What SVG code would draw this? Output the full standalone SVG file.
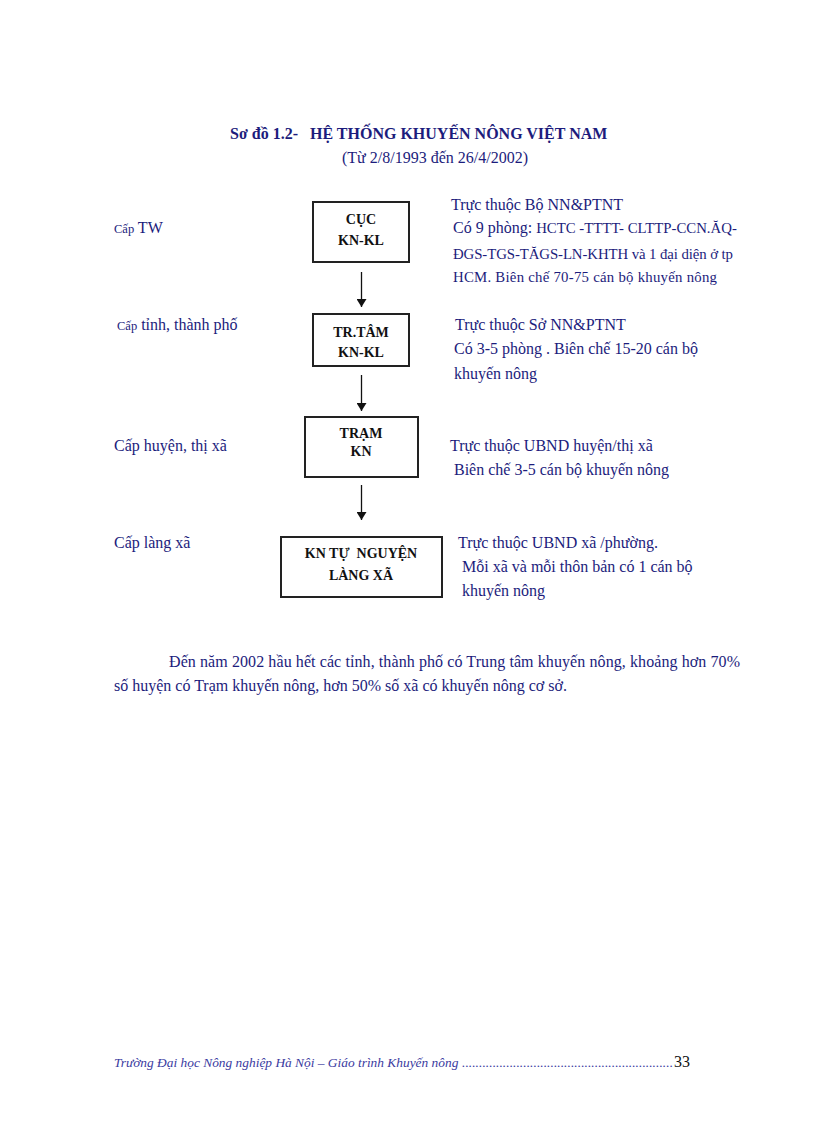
<svg xmlns="http://www.w3.org/2000/svg" width="816" height="1123" viewBox="0 0 816 1123">
<defs>
<style>
.t{font-family:"Liberation Serif","Times New Roman",serif;fill:#1c1c7c;font-size:16px}
.s{font-size:14.8px}
.b{font-family:"Liberation Serif","Times New Roman",serif;font-weight:bold;fill:#111;font-size:14px;text-anchor:middle;white-space:pre}
.h{font-family:"Liberation Serif","Times New Roman",serif;font-weight:bold;fill:#1c1c7c;font-size:16px;white-space:pre}
.box{fill:#fff;stroke:#222;stroke-width:2}
.c{stroke:#111;stroke-width:1.3;fill:none}
.f{font-family:"Liberation Serif","Times New Roman",serif;font-style:italic;fill:#3a3aa0;font-size:13.4px}
</style>
<marker id="ah" viewBox="0 0 8 10" refX="8" refY="5" markerWidth="8" markerHeight="10" markerUnits="userSpaceOnUse" orient="auto">
<path d="M0,0 L8,5 L0,10 z" fill="#111"/>
</marker>
</defs>
<rect width="816" height="1123" fill="#fff"/>

<text class="h" x="230" y="139" xml:space="preserve">Sơ đồ 1.2-   HỆ THỐNG KHUYẾN NÔNG VIỆT NAM</text>
<text class="t" x="342" y="163">(Từ 2/8/1993 đến 26/4/2002)</text>

<g id="labels">
<text class="t" x="114" y="233"><tspan font-size="12.5">Cấp</tspan> TW</text>
<text class="t" x="117" y="330"><tspan font-size="12.5">Cấp</tspan> tỉnh, thành phố</text>
<text class="t" x="114" y="451">Cấp huyện, thị xã</text>
<text class="t" x="114" y="548">Cấp làng xã</text>
</g>

<g id="connectors">
<line class="c" x1="361.5" y1="272" x2="361.5" y2="307" marker-end="url(#ah)"/>
<line class="c" x1="361.5" y1="375" x2="361.5" y2="411" marker-end="url(#ah)"/>
<line class="c" x1="361.5" y1="485" x2="361.5" y2="520" marker-end="url(#ah)"/>
</g>

<g id="cuc">
<rect class="box" x="313" y="202" width="96" height="60"/>
<text class="b" x="361" y="224">CỤC</text>
<text class="b" x="361" y="245">KN-KL</text>
</g>
<g id="trtam">
<rect class="box" x="313" y="314" width="96" height="52"/>
<text class="b" x="361" y="337">TR.TÂM</text>
<text class="b" x="361" y="357">KN-KL</text>
</g>
<g id="tram">
<rect class="box" x="305" y="417" width="113" height="60"/>
<text class="b" x="361" y="438">TRẠM</text>
<text class="b" x="361" y="456">KN</text>
</g>
<g id="kntn">
<rect class="box" x="281" y="537" width="161" height="60"/>
<text class="b" x="361" y="558" xml:space="preserve">KN TỰ  NGUYỆN</text>
<text class="b" x="361" y="580">LÀNG XÃ</text>
</g>

<g id="desc">
<text class="t" x="451" y="210">Trực thuộc Bộ NN&amp;PTNT</text>
<text class="t" x="453" y="233">Có 9 phòng: <tspan class="s">HCTC -TTTT- CLTTP-CCN.ĂQ-</tspan></text>
<text class="t s" x="453" y="259" textLength="280" lengthAdjust="spacing">ĐGS-TGS-TĂGS-LN-KHTH và 1 đại diện ở tp</text>
<text class="t s" x="453" y="282" textLength="264" lengthAdjust="spacing">HCM. Biên chế 70-75 cán bộ khuyến nông</text>

<text class="t" x="455" y="330">Trực thuộc Sở NN&amp;PTNT</text>
<text class="t" x="454" y="354">Có 3-5 phòng . Biên chế 15-20 cán bộ</text>
<text class="t" x="454" y="379">khuyến nông</text>

<text class="t" x="450" y="451">Trực thuộc UBND huyện/thị xã</text>
<text class="t" x="454" y="475">Biên chế 3-5 cán bộ khuyến nông</text>

<text class="t" x="458" y="548">Trực thuộc UBND xã /phường.</text>
<text class="t" x="462" y="572">Mỗi xã và mỗi thôn bản có 1 cán bộ</text>
<text class="t" x="462" y="596">khuyến nông</text>
</g>

<text class="t" x="169" y="667" textLength="571" lengthAdjust="spacing">Đến năm 2002 hầu hết các tỉnh, thành phố có Trung tâm khuyến nông, khoảng hơn 70%</text>
<text class="t" x="114" y="691">số huyện có Trạm khuyến nông, hơn 50% số xã có khuyến nông cơ sở.</text>

<text class="f" x="114" y="1067">Trường Đại học Nông nghiệp Hà Nội – Giáo trình Khuyến nông</text>
<text class="f" x="462" y="1067" textLength="211" lengthAdjust="spacing">..............................................................</text>
<text x="674" y="1067" font-family="'Liberation Serif','Times New Roman',serif" font-size="16" fill="#111">33</text>
</svg>
